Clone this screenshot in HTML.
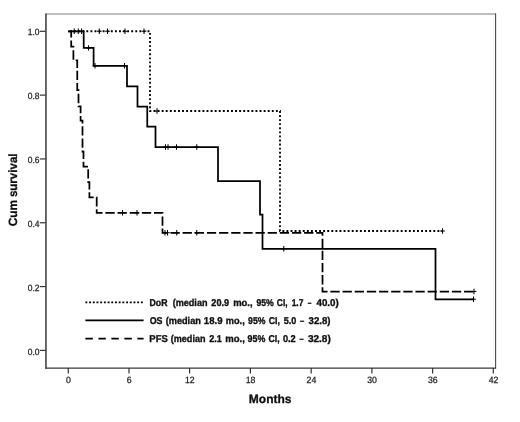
<!DOCTYPE html>
<html>
<head>
<meta charset="utf-8">
<title>Kaplan-Meier survival</title>
<style>
html,body{margin:0;padding:0;background:#fff;}
body{width:520px;height:422px;overflow:hidden;}
svg{display:block;will-change:transform;}
text{font-family:"Liberation Sans",Arial,sans-serif;text-rendering:geometricPrecision;}
.tk{font-size:9.1px;fill:#222;stroke:#222;stroke-width:0.25px;}
.lg{font-size:9.9px;font-weight:bold;fill:#111;stroke:#111;stroke-width:0.35px;white-space:pre;}
.ax{font-size:12px;font-weight:bold;fill:#111;stroke:#111;stroke-width:0.3px;}
</style>
</head>
<body>
<svg width="520" height="422" viewBox="0 0 520 422">
<rect x="0" y="0" width="520" height="422" fill="#fff"/>

<!-- frame -->
<g fill="none">
<line x1="46" y1="14.1" x2="496" y2="14.1" stroke="#a8a8a8" stroke-width="1.5"/>
<line x1="495.6" y1="13.5" x2="495.6" y2="368.6" stroke="#4a4a4a" stroke-width="1.1"/>
<line x1="45.95" y1="13.5" x2="45.95" y2="368.8" stroke="#383838" stroke-width="1.5"/>
<line x1="45.2" y1="368.1" x2="496.1" y2="368.1" stroke="#383838" stroke-width="1.4"/>
</g>

<!-- y ticks -->
<g stroke="#333" stroke-width="1.2">
<line x1="39.8" y1="31.30" x2="45.5" y2="31.30"/>
<line x1="39.8" y1="95.12" x2="45.5" y2="95.12"/>
<line x1="39.8" y1="158.94" x2="45.5" y2="158.94"/>
<line x1="39.8" y1="222.76" x2="45.5" y2="222.76"/>
<line x1="39.8" y1="286.58" x2="45.5" y2="286.58"/>
<line x1="39.8" y1="350.40" x2="45.5" y2="350.40"/>
</g>
<g class="tk" text-anchor="end">
<text x="39.6" y="35.4" textLength="11.8" lengthAdjust="spacingAndGlyphs">1.0</text>
<text x="39.6" y="99.3" textLength="11.8" lengthAdjust="spacingAndGlyphs">0.8</text>
<text x="39.6" y="163.2" textLength="11.8" lengthAdjust="spacingAndGlyphs">0.6</text>
<text x="39.6" y="227.0" textLength="11.8" lengthAdjust="spacingAndGlyphs">0.4</text>
<text x="39.6" y="290.9" textLength="11.8" lengthAdjust="spacingAndGlyphs">0.2</text>
<text x="39.6" y="354.8" textLength="11.8" lengthAdjust="spacingAndGlyphs">0.0</text>
</g>

<!-- x ticks -->
<g stroke="#333" stroke-width="1.2">
<line x1="68.3" y1="368" x2="68.3" y2="373.5"/>
<line x1="129.0" y1="368" x2="129.0" y2="373.5"/>
<line x1="189.6" y1="368" x2="189.6" y2="373.5"/>
<line x1="250.4" y1="368" x2="250.4" y2="373.5"/>
<line x1="311.2" y1="368" x2="311.2" y2="373.5"/>
<line x1="371.9" y1="368" x2="371.9" y2="373.5"/>
<line x1="432.6" y1="368" x2="432.6" y2="373.5"/>
<line x1="493.3" y1="368" x2="493.3" y2="373.5"/>
</g>
<g class="tk" text-anchor="middle">
<text x="68.5" y="382.7" textLength="4.85" lengthAdjust="spacingAndGlyphs">0</text>
<text x="129.2" y="382.7" textLength="4.85" lengthAdjust="spacingAndGlyphs">6</text>
<text x="189.8" y="382.7" textLength="9.7" lengthAdjust="spacingAndGlyphs">12</text>
<text x="250.6" y="382.7" textLength="9.7" lengthAdjust="spacingAndGlyphs">18</text>
<text x="311.4" y="382.7" textLength="9.7" lengthAdjust="spacingAndGlyphs">24</text>
<text x="372.1" y="382.7" textLength="9.7" lengthAdjust="spacingAndGlyphs">30</text>
<text x="432.8" y="382.7" textLength="9.7" lengthAdjust="spacingAndGlyphs">36</text>
<text x="493.5" y="382.7" textLength="9.7" lengthAdjust="spacingAndGlyphs">42</text>
</g>

<!-- axis titles -->
<text class="ax" x="270.2" y="403.3" text-anchor="middle">Months</text>
<text class="ax" transform="translate(16.6,190.4) rotate(-90)"><tspan x="-35.9" textLength="26.4" lengthAdjust="spacingAndGlyphs">Cum</tspan> <tspan x="-6.7" textLength="43.6" lengthAdjust="spacingAndGlyphs">survival</tspan></text>

<!-- curves -->
<g fill="none" stroke="#000" stroke-width="1.75" stroke-linejoin="miter">
<!-- DoR dotted -->
<path d="M68.2,31.25 H150 V111 H280 V231 H442.5" stroke-dasharray="1.9 2.18" stroke-dashoffset="-1.85" stroke-width="1.8"/>
<!-- OS solid -->
<path d="M68.2,31.25 H83.7 V47.9 H93.6 V65.75 H127 V86.25 H137.5 V106.5 H147.25 V126.5 H155.5 V147 H218 V181 H260 V214.5 H262.5 V248.75 H435.5 V299.25 H474"/>
<!-- PFS dashed -->
<path d="M68.2,31.25 H71.2 V46.5 H73.4 V60.25 H77.25 V90 H78.5 V106.25 H80.6 V120.5 H82.5 V151.5 H83.5 V166.6 H88.2 V182 H89.4 V197.3 H96.7 V212.75 H162.5 V232.75 H322.5 V291.5 H475" stroke-dasharray="9.3 2.85"/>
</g>

<!-- censor marks -->
<g stroke="#000" stroke-width="1.05" fill="none">
<path d="M71.80,31.25h4.80M74.20,28.60v5.30 M75.90,31.25h4.80M78.30,28.60v5.30 M79.20,31.25h4.80M81.60,28.60v5.30 M96.90,31.25h4.80M99.30,28.60v5.30 M105.10,31.25h4.80M107.50,28.60v5.30 M122.60,31.25h4.80M125.00,28.60v5.30 M141.60,31.25h4.80M144.00,28.60v5.30"/>
<path d="M154.60,111.00h4.80M157.00,108.35v5.30 M440.10,231.00h4.80M442.50,228.35v5.30"/>
<path d="M86.10,47.90h4.80M88.50,45.25v5.30 M92.60,65.75h4.80M95.00,63.10v5.30 M122.10,65.75h4.80M124.50,63.10v5.30 M163.10,147.00h4.80M165.50,144.35v5.30 M165.60,147.00h4.80M168.00,144.35v5.30 M174.10,147.00h4.80M176.50,144.35v5.30 M194.35,147.00h4.80M196.75,144.35v5.30 M281.35,248.75h4.80M283.75,246.10v5.30 M471.10,299.25h4.80M473.50,296.60v5.30"/>
<path d="M120.10,212.75h4.80M122.50,210.10v5.30 M134.60,212.75h4.80M137.00,210.10v5.30 M162.60,232.75h4.80M165.00,230.10v5.30 M165.10,232.75h4.80M167.50,230.10v5.30 M174.35,232.75h4.80M176.75,230.10v5.30 M194.35,232.75h4.80M196.75,230.10v5.30 M471.60,291.50h4.80M474.00,288.85v5.30"/>
</g>

<!-- legend -->
<g fill="none" stroke="#000" stroke-width="1.85">
<line x1="85.4" y1="302.4" x2="143" y2="302.4" stroke-dasharray="1.9 1.8" stroke-width="1.7"/>
<line x1="85.4" y1="320.4" x2="143.6" y2="320.4"/>
<line x1="85.4" y1="338.6" x2="143.6" y2="338.6" stroke-dasharray="7.4 5.6"/>
</g>
<g class="lg">
<text y="306.4"><tspan x="149.50" textLength="17.93" lengthAdjust="spacingAndGlyphs">DoR</tspan> <tspan x="172.68" textLength="34.83" lengthAdjust="spacingAndGlyphs">(median</tspan> <tspan x="211.35" textLength="17.78" lengthAdjust="spacingAndGlyphs">20.9</tspan> <tspan x="233.20" textLength="19.45" lengthAdjust="spacingAndGlyphs">mo.,</tspan> <tspan x="256.39" textLength="17.29" lengthAdjust="spacingAndGlyphs">95%</tspan> <tspan x="276.86" textLength="10.75" lengthAdjust="spacingAndGlyphs">CI,</tspan> <tspan x="291.65" textLength="11.73" lengthAdjust="spacingAndGlyphs">1.7</tspan> <tspan x="307.64" textLength="3.68" lengthAdjust="spacingAndGlyphs">–</tspan> <tspan x="316.48" textLength="22.31" lengthAdjust="spacingAndGlyphs">40.0)</tspan></text>
<text y="324.2"><tspan x="149.67" textLength="12.82" lengthAdjust="spacingAndGlyphs">OS</tspan> <tspan x="165.67" textLength="35.21" lengthAdjust="spacingAndGlyphs">(median</tspan> <tspan x="203.87" textLength="18.59" lengthAdjust="spacingAndGlyphs">18.9</tspan> <tspan x="225.83" textLength="18.91" lengthAdjust="spacingAndGlyphs">mo.,</tspan> <tspan x="248.09" textLength="17.32" lengthAdjust="spacingAndGlyphs">95%</tspan> <tspan x="268.77" textLength="11.22" lengthAdjust="spacingAndGlyphs">CI,</tspan> <tspan x="283.69" textLength="12.60" lengthAdjust="spacingAndGlyphs">5.0</tspan> <tspan x="299.89" textLength="4.28" lengthAdjust="spacingAndGlyphs">–</tspan> <tspan x="308.59" textLength="21.99" lengthAdjust="spacingAndGlyphs">32.8)</tspan></text>
<text y="341.9"><tspan x="149.37" textLength="18.41" lengthAdjust="spacingAndGlyphs">PFS</tspan> <tspan x="170.76" textLength="34.75" lengthAdjust="spacingAndGlyphs">(median</tspan> <tspan x="209.28" textLength="12.56" lengthAdjust="spacingAndGlyphs">2.1</tspan> <tspan x="225.33" textLength="19.60" lengthAdjust="spacingAndGlyphs">mo.,</tspan> <tspan x="247.60" textLength="17.74" lengthAdjust="spacingAndGlyphs">95%</tspan> <tspan x="268.41" textLength="11.15" lengthAdjust="spacingAndGlyphs">CI,</tspan> <tspan x="282.88" textLength="12.83" lengthAdjust="spacingAndGlyphs">0.2</tspan> <tspan x="299.46" textLength="4.12" lengthAdjust="spacingAndGlyphs">–</tspan> <tspan x="307.92" textLength="22.89" lengthAdjust="spacingAndGlyphs">32.8)</tspan></text>
</g>
</svg>
</body>
</html>
